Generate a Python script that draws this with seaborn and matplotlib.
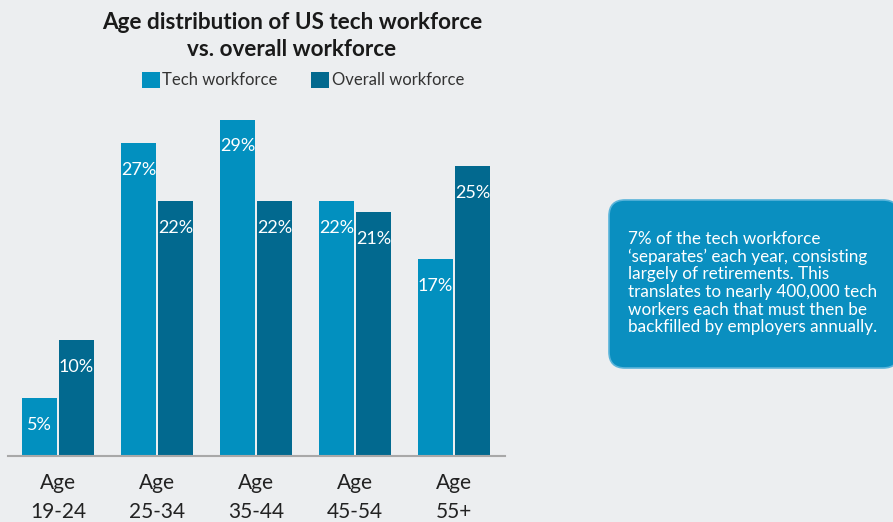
import pandas as pd
import matplotlib.pyplot as plt
import seaborn as sns
from matplotlib.patches import FancyBboxPatch

# === Data ===
age_groups = ['Age\n19-24', 'Age\n25-34', 'Age\n35-44', 'Age\n45-54', 'Age\n55+']
tech_pct = [5, 27, 29, 22, 17]
overall_pct = [10, 22, 22, 21, 25]
series_names = ['Tech workforce', 'Overall workforce']
callout_text = ("7% of the tech workforce\n"
                "\u2018separates\u2019 each year, consisting\n"
                "largely of retirements. This\n"
                "translates to nearly 400,000 tech\n"
                "workers each that must then be\n"
                "backfilled by employers annually.")

df = pd.DataFrame({
    'age': age_groups * 2,
    'pct': tech_pct + overall_pct,
    'series': [series_names[0]] * len(age_groups) + [series_names[1]] * len(age_groups),
})

bg = '#eceef0'
colors = ['#0290bf', '#02698f']

sns.set_theme(style='white')
plt.rcParams['font.family'] = ['Lato', 'DejaVu Sans']

W, H = 893, 522
fig = plt.figure(figsize=(W / 100, H / 100), dpi=100, facecolor=bg)

# main chart axes, placed in pixel terms
ax = fig.add_axes([8 / W, (H - 456) / H, 497 / W, 348 / H])
ax.set_facecolor(bg)
sns.barplot(data=df, x='age', y='pct', hue='series', palette=colors,
            width=0.75, gap=0.05, ax=ax, saturation=1, edgecolor='none')
ax.set_xlim(-0.505, 4.515)
ax.set_ylim(0, 30)
ax.set_xlabel('')
ax.set_ylabel('')
ax.set_yticks([])
for s in ['top', 'right', 'left']:
    ax.spines[s].set_visible(False)
ax.spines['bottom'].set_color('#a8a8a8')
ax.spines['bottom'].set_linewidth(1.5)
ax.tick_params(axis='x', length=0, labelsize=15, pad=12, labelcolor='#222222')
for lbl in ax.get_xticklabels():
    lbl.set_linespacing(1.6)

for cont in ax.containers:
    ax.bar_label(cont, fmt='%d%%', padding=-25, color='white', fontsize=13)

ax.legend(loc='center', bbox_to_anchor=(303 / W, (H - 80) / H),
          bbox_transform=fig.transFigure, ncol=2, frameon=False,
          fontsize=12, handlelength=1.1, handleheight=1.1,
          handletextpad=0.15, columnspacing=2.0, labelcolor='#333333')

# title
fig.text(292 / W, (H - 36) / H, 'Age distribution of US tech workforce\nvs. overall workforce',
         ha='center', va='center', fontsize=16.2, fontweight='bold',
         color='#1a1a1a', linespacing=1.3)

# callout box on an overlay axes in pixel units
ov = fig.add_axes([0, 0, 1, 1], facecolor='none')
ov.set_xlim(0, W)
ov.set_ylim(H, 0)
ov.axis('off')
box = FancyBboxPatch((609, 200), 290, 168, boxstyle='round,pad=0,rounding_size=16',
                     facecolor='#0a8fc0', edgecolor='#5ab4da', linewidth=1.2)
ov.add_patch(box)
ov.text(628, 283, callout_text, ha='left', va='center', color='white',
        fontsize=12.3, linespacing=1.12)

fig.savefig('out.png', dpi=100, facecolor=bg)
